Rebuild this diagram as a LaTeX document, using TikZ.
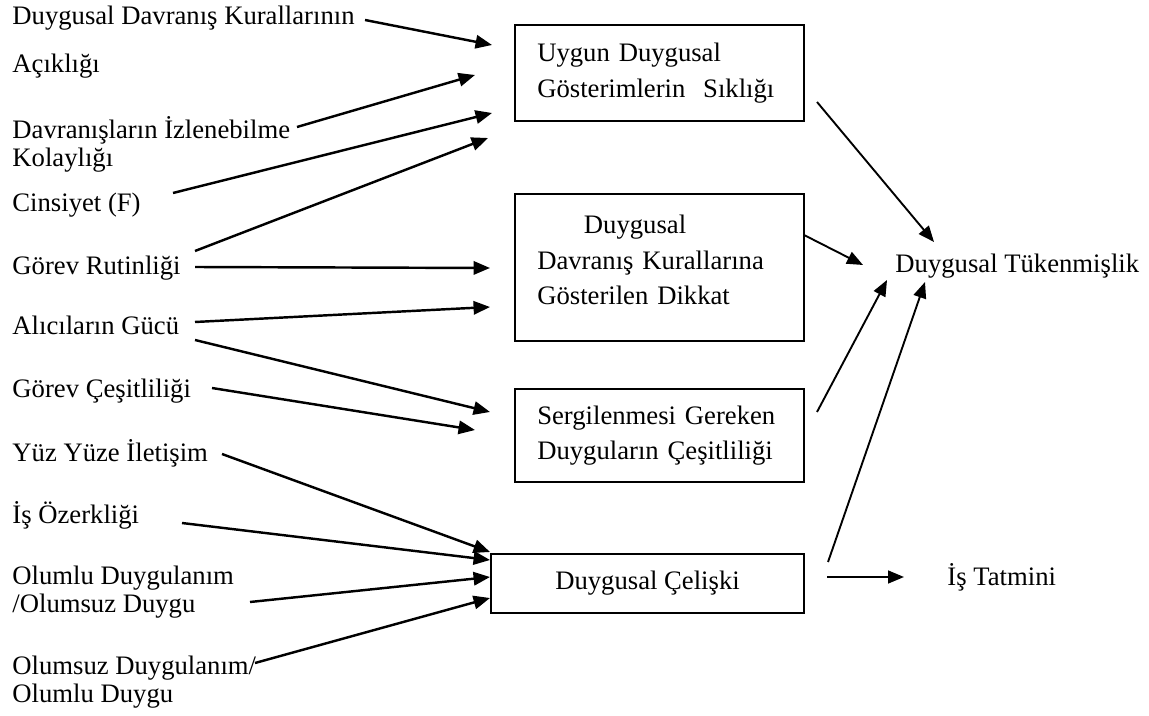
\documentclass[tikz,border=0pt]{standalone}
\usepackage{fontspec}
\setmainfont{Liberation Serif}
\usepackage{tikz}
\usetikzlibrary{arrows.meta,calc}
\definecolor{ink}{HTML}{000000}
\tikzset{
  lab/.style={anchor=base west, inner sep=0pt, align=left, font=\fontsize{12}{12.6}\selectfont, text=ink},
  box/.style={draw=ink, line width=1pt, minimum width=130pt, inner sep=0pt},
  boxtxt/.style={text width=110pt, align=left, inner sep=0pt, font=\fontsize{12}{16}\selectfont, text=ink},
  inarr/.style={-{Triangle[length=7.4pt,width=6pt]}, draw=ink, line width=1.1pt},
  outarr/.style={-{Triangle[length=7.2pt,width=5.8pt]}, draw=ink, line width=0.85pt}
}
\begin{document}
\begin{tikzpicture}[x=0.45pt, y=-0.45pt]
  \useasboundingbox (0,0) rectangle (1149,716);

  \node[lab] (kural) at (12,25) {Duygusal Davranış Kurallarının};
  \node[lab] (acik) at (12,73) {Açıklığı};
  \node[lab] (izle) at (12,167) {Davranışların İzlenebilme\\Kolaylığı};
  \node[lab] (cins) at (12,212) {Cinsiyet (F)};
  \node[lab] (rutin) at (12,275) {Görev Rutinliği};
  \node[lab] (guc) at (12,335) {Alıcıların Gücü};
  \node[lab] (cesit) at (12,398) {Görev Çeşitliliği};
  \node[lab] (yuz) at (12,461) {Yüz Yüze İletişim};
  \node[lab] (ozerk) at (12,523) {İş Özerkliği};
  \node[lab] (olumlu) at (12,612) {Olumlu Duygulanım\\/Olumsuz Duygu};
  \node[lab] (olumsuz) at (12,702) {Olumsuz Duygulanım/\\Olumlu Duygu};

  \node[box, minimum height=43.2pt] (b1) at (659.5,73) {};
  \node[boxtxt] (t1) at (b1.center) {Uygun Duygusal\\Gösterimlerin~ Sıklığı};
  \node[box, minimum height=66.2pt] (b2) at (659.5,267.5) {};
  \node[boxtxt] (t2) at ($(b2.center)+(0,-7.5)$) {\hspace*{21pt}Duygusal\\Davranış Kurallarına\\Gösterilen Dikkat};
  \node[box, minimum height=41.9pt] (b3) at (659.5,435.5) {};
  \node[boxtxt] (t3) at (b3.center) {Sergilenmesi Gereken\\Duyguların Çeşitliliği};
  \node[box, minimum width=140.9pt, minimum height=26.6pt, font=\fontsize{12}{16}\selectfont] (b4) at (647.5,583.5) {Duygusal Çelişki};

  \node[lab] (tuken) at (895,273) {Duygusal Tükenmişlik};
  \node[lab] (tatmin) at (947,585) {İş Tatmini};

  \coordinate (a1s) at (365,20);  \coordinate (a1e) at (492,45);
  \coordinate (a2s) at (297,127); \coordinate (a2e) at (475,75);
  \coordinate (a3s) at (173,193); \coordinate (a3e) at (492,113);
  \coordinate (a4s) at (195,251); \coordinate (a4e) at (488,138);
  \coordinate (a5s) at (195,267); \coordinate (a5e) at (490,268);
  \coordinate (a6s) at (195,322); \coordinate (a6e) at (490,307);
  \coordinate (a7s) at (195,340); \coordinate (a7e) at (490,412);
  \coordinate (a8s) at (212,388); \coordinate (a8e) at (475,430);
  \coordinate (a9s) at (222,454); \coordinate (a9e) at (490,552);
  \coordinate (a10s) at (182,523); \coordinate (a10e) at (490,560);
  \coordinate (a11s) at (250,602); \coordinate (a11e) at (490,577);
  \coordinate (a12s) at (255,663); \coordinate (a12e) at (490,598);

  \foreach \i in {1,...,12}
    \draw[inarr] (a\i s) -- (a\i e);

  \coordinate (c1s) at (817,102); \coordinate (c1e) at (934,242);
  \coordinate (c2s) at (804,235); \coordinate (c2e) at (863,265);
  \coordinate (c3s) at (817,412); \coordinate (c3e) at (887,280);
  \coordinate (c4s) at (828,562); \coordinate (c4e) at (925,282);
  \coordinate (c5s) at (827,577); \coordinate (c5e) at (904,577);

  \foreach \i in {1,...,5}
    \draw[outarr] (c\i s) -- (c\i e);
\end{tikzpicture}
\end{document}
